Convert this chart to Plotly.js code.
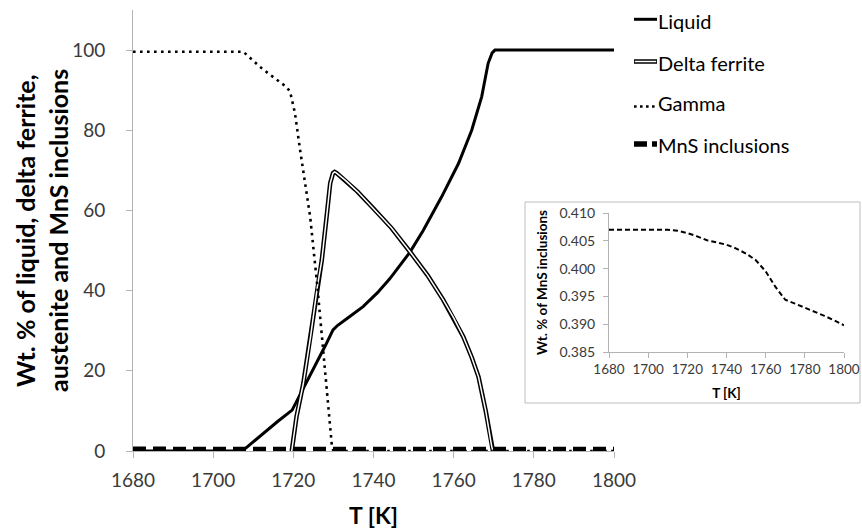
<!DOCTYPE html>
<html>
<head>
<meta charset="utf-8">
<script src="https://cdn.plot.ly/plotly-3.0.1.min.js"></script>
<style>
  html, body { margin: 0; padding: 0; background: #fff; }
  #chart { width: 862px; height: 532px; }
</style>
</head>
<body>
<div id="chart"></div>
<script>
// ---- data ----
const T_liquid = [1680,1707,1708,1712,1716,1719.7,1722,1725.4,1728,1729.9,1731,1734,1737.4,1741,1744.1,1749.1,1752.4,1757,1761.2,1764.5,1767,1768.6,1769.6,1770.3,1800];
const liquid   = [0,0,0.6,4,7.3,10.2,14.6,21,26.3,30.2,31.3,33.5,36,39.5,43,49.6,55,63.4,71.7,80,88.4,96.7,99.3,100,100];

const T_delta = [1719.6,1720.8,1722.5,1724.3,1726,1727.1,1728.3,1729.2,1729.9,1730.3,1730.8,1733,1736,1740,1744.5,1749.1,1753.5,1757.4,1760,1762.4,1764.5,1766.2,1768,1769.5,1769.8];
const delta   = [0,8.6,16.9,28.5,41,47.6,58.4,66.8,69.3,69.6,69.3,67.5,64.7,60.5,55.6,49.7,43.8,37.7,33.2,28.5,23.4,18.5,10,1.1,0];

const T_gamma = [1680,1707.5,1709.5,1711.7,1714,1716.7,1718.3,1719.2,1720.4,1721.7,1723,1724.2,1726,1727.9,1729.6,1730,1800];
const gamma   = [99.6,99.6,97.8,95.8,94,92.1,90.8,89.6,84.3,75,66.5,58.4,41,21,1.5,0,0];

const T_mns = [1680,1690,1700,1710,1715,1720,1725,1730,1735,1740,1745,1750,1755,1760,1765,1770,1775,1780,1785,1790,1795,1800];
const mns   = [0.4070,0.4070,0.4070,0.4070,0.4068,0.4064,0.4058,0.4051,0.4047,0.4043,0.4036,0.4027,0.4015,0.3995,0.3967,0.3944,0.3937,0.3930,0.3923,0.3915,0.3907,0.3898];

const xTicks = [1680,1700,1720,1740,1760,1780,1800];
const yTicksMain = [0,20,40,60,80,100];
const yTicksInset = [0.385,0.390,0.395,0.400,0.405,0.410];
const seriesNames = ['Liquid','Delta ferrite','Gamma','MnS inclusions'];
const yTitleLines = ['Wt. % of liquid, delta ferrite,', 'austenite and MnS inclusions'];

// ---- layout helpers (pixel -> paper) ----
const W = 862, H = 532, ML = 133, MR = 18, MT = 10, MB = 81;
const PW = W - ML - MR, PH = H - MT - MB;
const px = v => (v - ML) / PW;
const py = v => (H - MB - v) / PH;

const FONT = 'Lato, "Open Sans", sans-serif';
const AX = '#b3b3b3';
const TICKC = '#3a3a3a';

const traces = [
  {x: T_liquid, y: liquid, mode: 'lines', name: seriesNames[0], line: {color: '#000', width: 3}, xaxis: 'x', yaxis: 'y'},
  {x: T_delta, y: delta, mode: 'lines', name: seriesNames[1], line: {color: '#000', width: 4.5}, xaxis: 'x', yaxis: 'y'},
  {x: T_delta, y: delta, mode: 'lines', name: seriesNames[1] + ' core', line: {color: '#fff', width: 1.5}, xaxis: 'x', yaxis: 'y'},
  {x: T_gamma, y: gamma, mode: 'lines', name: seriesNames[2], line: {color: '#000', width: 2.6, dash: '2.6px,4.4px'}, xaxis: 'x', yaxis: 'y'},
  {x: T_mns, y: mns, mode: 'lines', name: seriesNames[3], line: {color: '#000', width: 5.5, dash: '13px,7px'}, xaxis: 'x', yaxis: 'y'},
  {x: T_mns, y: mns, mode: 'lines', name: seriesNames[3] + ' (inset)', line: {color: '#000', width: 2, dash: '5px,3px'}, xaxis: 'x2', yaxis: 'y2'}
];

const legendRows = [
  {name: seriesNames[0], y: 20.7, ly: 19.3},
  {name: seriesNames[1], y: 62.7, ly: 61.5},
  {name: seriesNames[2], y: 103.5, ly: 106.5},
  {name: seriesNames[3], y: 144.5, ly: 144}
];

const shapes = [
  // inset frame
  {type: 'rect', xref: 'paper', yref: 'paper', x0: px(525), x1: px(860), y0: py(403), y1: py(202),
   line: {color: '#bdbdbd', width: 1}, fillcolor: '#fff', layer: 'below'},
  // legend samples
  {type: 'line', xref: 'paper', yref: 'paper', x0: px(634), x1: px(657), y0: py(legendRows[0].ly), y1: py(legendRows[0].ly), line: {color: '#000', width: 3}},
  {type: 'line', xref: 'paper', yref: 'paper', x0: px(634), x1: px(657), y0: py(legendRows[1].ly), y1: py(legendRows[1].ly), line: {color: '#000', width: 4.5}},
  {type: 'line', xref: 'paper', yref: 'paper', x0: px(634.8), x1: px(656.2), y0: py(legendRows[1].ly), y1: py(legendRows[1].ly), line: {color: '#fff', width: 1.5}},
  {type: 'line', xref: 'paper', yref: 'paper', x0: px(634), x1: px(657), y0: py(legendRows[2].ly), y1: py(legendRows[2].ly), line: {color: '#000', width: 2.6, dash: '2.6px,3.4px'}},
  {type: 'line', xref: 'paper', yref: 'paper', x0: px(634), x1: px(657), y0: py(legendRows[3].ly), y1: py(legendRows[3].ly), line: {color: '#000', width: 5.5, dash: '13px,5px'}}
];

const annotations = legendRows.map(r => ({
  xref: 'paper', yref: 'paper', x: px(656), y: py(r.y), xanchor: 'left', yanchor: 'middle',
  text: r.name, showarrow: false, font: {family: FONT, size: 20, color: '#000'}
}));
// main y-axis title, two rotated lines
[25, 58].forEach((cx, i) => annotations.push({
  xref: 'paper', yref: 'paper', x: px(cx), y: py(231), xanchor: 'center', yanchor: 'middle',
  textangle: -90, text: '<b>' + yTitleLines[i] + '</b>', showarrow: false,
  font: {family: FONT, size: 25, color: '#000'}
}));

const layout = {
  width: W, height: H,
  margin: {l: ML, r: MR, t: MT, b: MB, pad: 0},
  paper_bgcolor: '#fff', plot_bgcolor: 'rgba(0,0,0,0)',
  showlegend: false,
  font: {family: FONT, color: TICKC},
  xaxis: {
    domain: [0, px(614)], range: [1680, 1800], tickvals: xTicks,
    showgrid: false, zeroline: false, showline: true, linecolor: AX, linewidth: 1,
    ticks: 'outside', ticklen: 6, tickcolor: AX, ticklabelstandoff: 6,
    tickfont: {family: FONT, size: 19, color: TICKC},
    title: {text: '<b>T [K]</b>', font: {family: FONT, size: 23, color: '#000'}, standoff: 18},
    anchor: 'y'
  },
  yaxis: {
    domain: [0, 1], range: [0, 110], tickvals: yTicksMain,
    showgrid: false, zeroline: false, showline: true, linecolor: AX, linewidth: 1,
    ticks: 'outside', ticklen: 6, tickcolor: AX, ticklabelstandoff: 17,
    tickfont: {family: FONT, size: 19, color: TICKC},
    anchor: 'x'
  },
  xaxis2: {
    domain: [px(609), px(844)], range: [1680, 1800], tickvals: xTicks,
    showgrid: false, zeroline: false, showline: true, linecolor: AX, linewidth: 1,
    ticks: 'outside', ticklen: 5, tickcolor: AX, tickfont: {family: FONT, size: 13.5, color: TICKC},
    title: {text: '<b>T [K]</b>', font: {family: FONT, size: 13.5, color: '#000'}, standoff: 12},
    anchor: 'y2'
  },
  yaxis2: {
    domain: [py(352), py(213)], range: [0.385, 0.410], tickvals: yTicksInset, tickformat: '.3f',
    showgrid: false, zeroline: false, showline: true, linecolor: AX, linewidth: 1,
    ticks: 'outside', ticklen: 5, tickcolor: AX, ticklabelstandoff: 5,
    tickfont: {family: FONT, size: 14, color: TICKC},
    title: {text: '<b>Wt. % of MnS inclusions</b>', font: {family: FONT, size: 13.5, color: '#000'}, standoff: 8},
    anchor: 'x2'
  },
  shapes: shapes,
  annotations: annotations
};

Plotly.newPlot('chart', traces, layout, {staticPlot: true, displayModeBar: false});
</script>
</body>
</html>
